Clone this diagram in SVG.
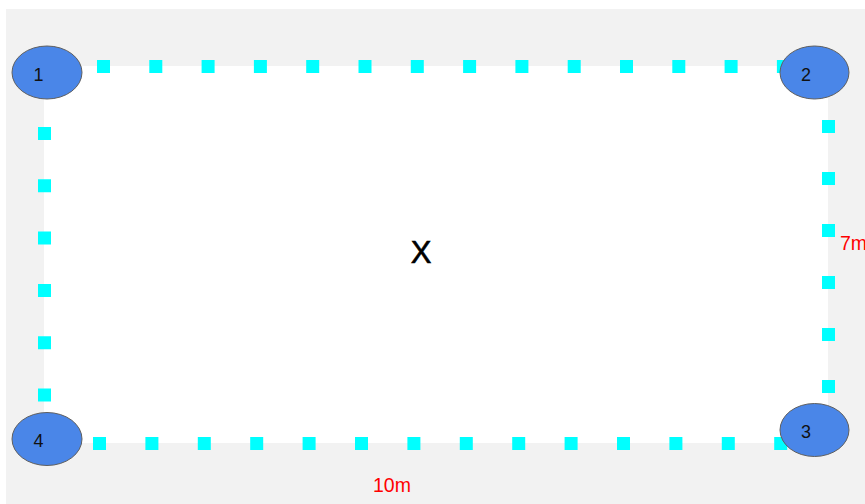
<svg xmlns="http://www.w3.org/2000/svg" width="865" height="504" viewBox="0 0 865 504">
  <style>
    .dots { stroke: #00ffff; stroke-width: 13; fill: none; }
    .node ellipse { fill: #4a86e8; stroke: #5f5f5f; stroke-width: 1; }
    .node text { font-family: "Liberation Sans", Arial, sans-serif; font-size: 18px; fill: #111; text-anchor: middle; }
    .dim { font-family: "Liberation Sans", Arial, sans-serif; font-size: 19.5px; fill: #ff0000; }
  </style>
  <rect x="0" y="0" width="865" height="504" fill="#ffffff"/>
  <rect x="6" y="9" width="859" height="495" fill="#f2f2f2"/>
  <rect x="44" y="66" width="784" height="377" fill="#ffffff"/>
  <g id="connectors">
    <line class="dots" x1="97" y1="66.5" x2="791" y2="66.5" stroke-dasharray="13 39.3"/>
    <line class="dots" x1="828.5" y1="120" x2="828.5" y2="394" stroke-dasharray="13 39"/>
    <line class="dots" x1="93" y1="443.5" x2="788" y2="443.5" stroke-dasharray="13 39.4"/>
    <line class="dots" x1="44.5" y1="127" x2="44.5" y2="402" stroke-dasharray="13 39.3"/>
  </g>
  <g id="node1" class="node">
    <ellipse cx="47" cy="72.5" rx="35" ry="26.5"/>
    <text x="38.5" y="80.5">1</text>
  </g>
  <g id="node2" class="node">
    <ellipse cx="814.5" cy="72.5" rx="34.5" ry="26.5"/>
    <text x="806" y="80.5">2</text>
  </g>
  <g id="node3" class="node">
    <ellipse cx="814.5" cy="430" rx="34.5" ry="26.5"/>
    <text x="806" y="438">3</text>
  </g>
  <g id="node4" class="node">
    <ellipse cx="47" cy="439" rx="35" ry="26.5"/>
    <text x="38.5" y="446.5">4</text>
  </g>
  <g id="center">
    <text x="421" y="263" font-family="Liberation Sans, Arial, sans-serif" font-size="31" text-anchor="middle" fill="#000" stroke="#000" stroke-width="0.6">X</text>
  </g>
  <text class="dim" x="840" y="250">7m</text>
  <text class="dim" x="373" y="492">10m</text>
</svg>
